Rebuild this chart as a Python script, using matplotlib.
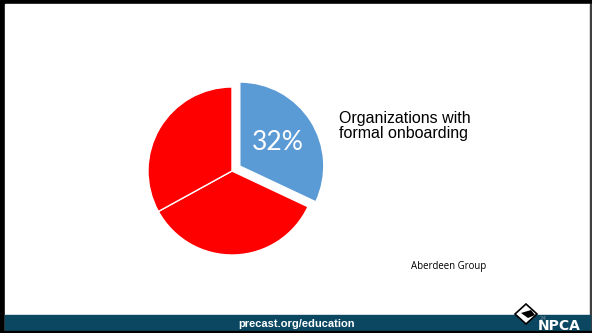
import matplotlib.pyplot as plt
from matplotlib.patches import Rectangle, Polygon

# share of organizations, first slice is the highlighted one
values = [32, 35, 33]
colors = ['#5B9BD5', '#FF0000', '#FF0000']
caption = 'Organizations with\nformal onboarding'
source = 'Aberdeen Group'
footer = 'precast.org/education'

W, H = 592, 333
fig = plt.figure(figsize=(W / 100, H / 100), dpi=100)
fig.patch.set_facecolor('white')

# background axes in pixel units for the slide frame
bg = fig.add_axes([0, 0, 1, 1])
bg.set_xlim(0, W)
bg.set_ylim(H, 0)
bg.axis('off')

bg.add_patch(Rectangle((0, 0), W, H, color='black'))
bg.add_patch(Rectangle((5, 4), 585, 329, color='white'))
bg.add_patch(Rectangle((590, 4), 2, 329, color='#404040'))
bg.add_patch(Rectangle((5, 315), 585, 16, color='#0B4761'))
bg.add_patch(Rectangle((0, 331), W, 2, color='black'))

bg.text(297, 324, footer, color='white', fontsize=8, fontweight='bold',
        family='Liberation Sans', ha='center', va='center')

# npca logo
bg.add_patch(Polygon([(526, 304), (537, 314), (526, 324), (515, 314)],
                     closed=True, facecolor='white', edgecolor='black', lw=1.2))
bg.add_patch(Polygon([(521, 313), (531, 310), (535, 315), (528, 318)],
                     closed=True, facecolor='black', edgecolor='none'))
bg.text(540, 318, '24', color='#8090a0', fontsize=4, family='DejaVu Sans',
        ha='left', va='center')
bg.text(538, 326, 'NPCA', color='white', fontsize=10, fontweight='bold',
        family='DejaVu Sans', ha='left', va='center')

bg.text(339, 126, caption, color='black', fontsize=11.5, family='Liberation Sans',
        ha='left', va='center', linespacing=1.0)
bg.text(411, 267, source, color='black', fontsize=6.9, family='Open Sans',
        ha='left', va='center')

# pie axes: center at (232, 171) px, radius 84 px
cx, cy, r = 232, 171, 84
half = 100
ax = fig.add_axes([(cx - half) / W, 1 - (cy + half) / H, 2 * half / W, 2 * half / H])
wedges, texts, autotexts = ax.pie(
    values, colors=colors, startangle=90, counterclock=False,
    explode=[0.11, 0, 0], autopct='%d%%', pctdistance=0.53,
    wedgeprops=dict(edgecolor='white', linewidth=1.0),
    textprops=dict(color='white', fontsize=19, family='Lato'))
for t in autotexts[1:]:
    t.set_text('')
ax.set_xlim(-half / r, half / r)
ax.set_ylim(-half / r, half / r)
ax.set_aspect('equal')
ax.axis('off')

fig.savefig('out.png', dpi=100)
